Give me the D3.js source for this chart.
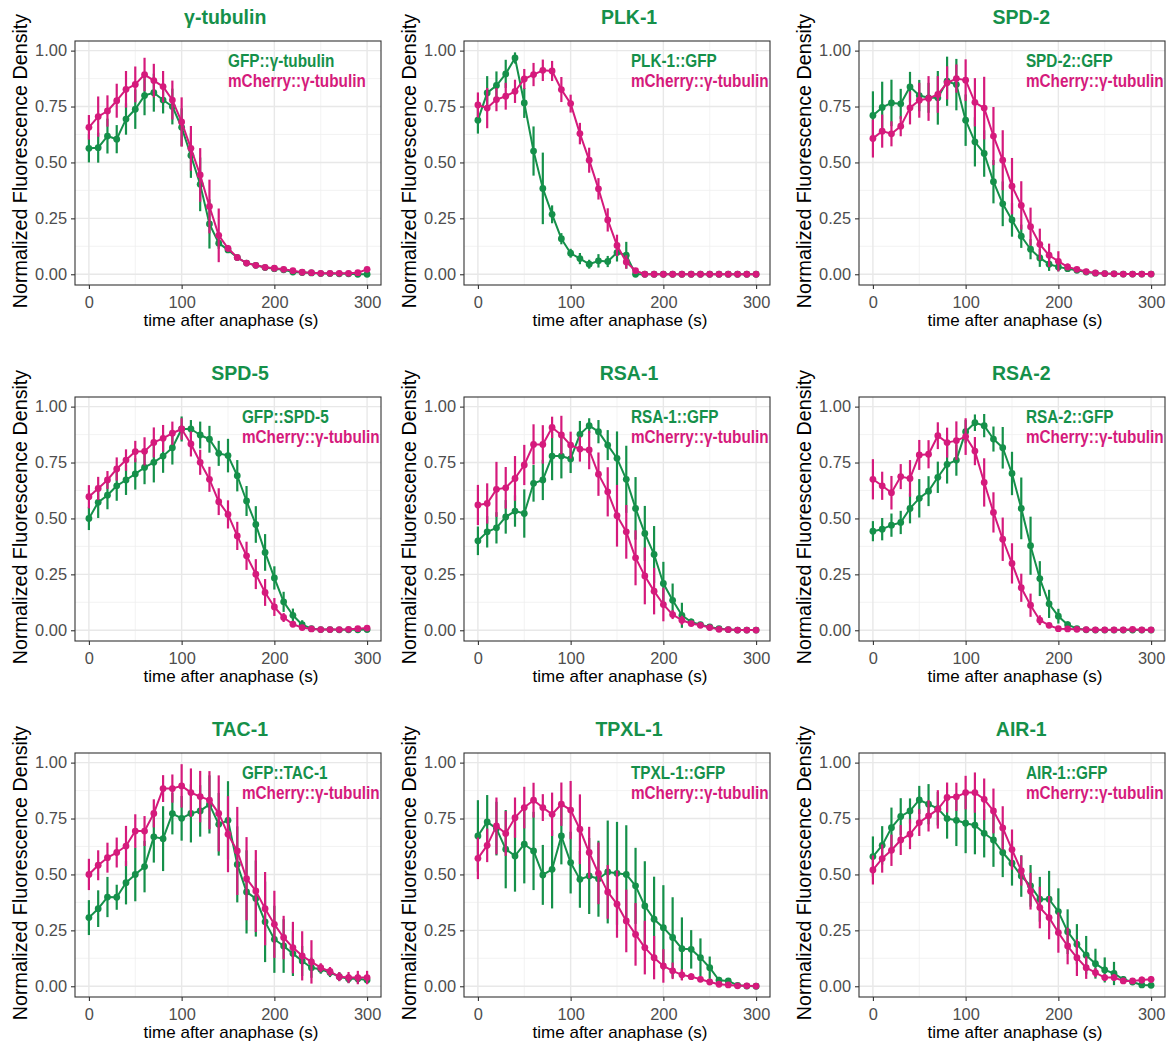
<!DOCTYPE html>
<html>
<head>
<meta charset="utf-8">
<script src="https://cdn.jsdelivr.net/npm/d3@7"></script>
<style>
  body { margin: 0; background: #fff; }
  text { font-family: "Liberation Sans", Arial, Helvetica, sans-serif; }
</style>
</head>
<body>
<div id="chart"></div>
<script>
const width = 1170
const height = 1051

// time after anaphase (s)
const time = [0, 10, 20, 30, 40, 50, 60, 70, 80, 90, 100, 110, 120, 130, 140, 150, 160, 170, 180, 190, 200, 210, 220, 230, 240, 250, 260, 270, 280, 290, 300]

const titles = ['γ-tubulin', 'PLK-1', 'SPD-2', 'SPD-5', 'RSA-1', 'RSA-2', 'TAC-1', 'TPXL-1', 'AIR-1']
const gfpLabels = ['GFP::γ-tubulin', 'PLK-1::GFP', 'SPD-2::GFP', 'GFP::SPD-5', 'RSA-1::GFP', 'RSA-2::GFP', 'GFP::TAC-1', 'TPXL-1::GFP', 'AIR-1::GFP']
const mchLabel = 'mCherry::γ-tubulin'
const yTicks = [0, 0.25, 0.5, 0.75, 1]
const xTicks = [0, 100, 200, 300]

// γ-tubulin
const gammaGfp = [0.563, 0.566, 0.618, 0.604, 0.694, 0.738, 0.799, 0.812, 0.779, 0.75, 0.657, 0.531, 0.402, 0.225, 0.139, 0.109, 0.075, 0.05, 0.04, 0.03, 0.025, 0.02, 0.01, 0.008, 0.006, 0.003, 0.003, 0.002, 0.002, 0.0, 0.0]
const gammaGfpErr = [0.063, 0.067, 0.078, 0.063, 0.07, 0.088, 0.088, 0.085, 0.06, 0.08, 0.085, 0.1, 0.12, 0.11, 0.025, 0.012, 0.01, 0.008, 0.006, 0.005, 0.005, 0.004, 0.004, 0.003, 0.003, 0.003, 0.003, 0.003, 0.003, 0.003, 0.003]
const gammaMch = [0.657, 0.705, 0.73, 0.776, 0.827, 0.849, 0.893, 0.866, 0.839, 0.779, 0.681, 0.563, 0.444, 0.303, 0.174, 0.116, 0.075, 0.05, 0.04, 0.031, 0.027, 0.022, 0.016, 0.009, 0.007, 0.004, 0.004, 0.004, 0.004, 0.007, 0.022]
const gammaMchErr = [0.055, 0.09, 0.07, 0.076, 0.082, 0.08, 0.075, 0.075, 0.07, 0.087, 0.11, 0.1, 0.12, 0.12, 0.12, 0.015, 0.01, 0.008, 0.007, 0.006, 0.005, 0.005, 0.005, 0.004, 0.004, 0.004, 0.004, 0.004, 0.004, 0.006, 0.01]

// PLK-1
const plkGfp = [0.689, 0.811, 0.844, 0.896, 0.967, 0.766, 0.551, 0.384, 0.268, 0.159, 0.094, 0.07, 0.045, 0.06, 0.057, 0.097, 0.085, 0, 0, 0, 0, 0, 0, 0, 0, 0, 0, 0, 0, 0, 0]
const plkGfpErr = [0.06, 0.075, 0.063, 0.063, 0.025, 0.067, 0.11, 0.16, 0.04, 0.025, 0.02, 0.025, 0.02, 0.03, 0.025, 0.04, 0.06, 0.005, 0.002, 0.002, 0.002, 0.002, 0.002, 0.002, 0.002, 0.002, 0.002, 0.002, 0.002, 0.002, 0.002]
const plkMch = [0.757, 0.743, 0.781, 0.796, 0.818, 0.873, 0.893, 0.912, 0.909, 0.826, 0.763, 0.629, 0.51, 0.382, 0.243, 0.129, 0.055, 0.016, 0, 0, 0, 0, 0, 0, 0, 0, 0, 0, 0, 0, 0]
const plkMchErr = [0.056, 0.09, 0.052, 0.06, 0.052, 0.045, 0.052, 0.048, 0.045, 0.056, 0.04, 0.048, 0.056, 0.048, 0.052, 0.048, 0.03, 0.01, 0.002, 0.002, 0.002, 0.002, 0.002, 0.002, 0.002, 0.002, 0.002, 0.002, 0.002, 0.002, 0.002]

// SPD-2
const spd2Gfp = [0.71, 0.746, 0.766, 0.762, 0.838, 0.799, 0.789, 0.789, 0.863, 0.848, 0.689, 0.592, 0.54, 0.414, 0.315, 0.243, 0.17, 0.112, 0.073, 0.045, 0.033, 0.025, 0.018, 0.01, 0.005, 0.003, 0.002, 0.001, 0.001, 0.001, 0.001]
const spd2GfpErr = [0.108, 0.115, 0.104, 0.067, 0.067, 0.07, 0.067, 0.12, 0.11, 0.115, 0.115, 0.11, 0.104, 0.097, 0.1, 0.075, 0.052, 0.045, 0.04, 0.03, 0.02, 0.01, 0.008, 0.006, 0.004, 0.003, 0.003, 0.002, 0.002, 0.002, 0.002]
const spd2Mch = [0.607, 0.64, 0.628, 0.662, 0.744, 0.778, 0.786, 0.804, 0.856, 0.875, 0.868, 0.769, 0.743, 0.618, 0.51, 0.394, 0.308, 0.213, 0.134, 0.085, 0.058, 0.033, 0.022, 0.012, 0.006, 0.003, 0.002, 0.001, 0.001, 0.001, 0.001]
const spd2MchErr = [0.085, 0.074, 0.056, 0.045, 0.074, 0.078, 0.1, 0.082, 0.074, 0.063, 0.093, 0.108, 0.14, 0.13, 0.134, 0.126, 0.108, 0.085, 0.07, 0.052, 0.045, 0.015, 0.01, 0.006, 0.004, 0.003, 0.003, 0.002, 0.002, 0.002, 0.002]

// SPD-5
const spd5Gfp = [0.5, 0.572, 0.604, 0.646, 0.672, 0.699, 0.728, 0.751, 0.779, 0.816, 0.9, 0.9, 0.873, 0.854, 0.791, 0.781, 0.691, 0.578, 0.473, 0.348, 0.234, 0.127, 0.067, 0.025, 0.007, 0.003, 0.003, 0.002, 0.002, 0.002, 0.003]
const spd5GfpErr = [0.052, 0.07, 0.063, 0.067, 0.067, 0.07, 0.075, 0.09, 0.075, 0.075, 0.056, 0.04, 0.06, 0.06, 0.056, 0.075, 0.07, 0.067, 0.082, 0.082, 0.052, 0.045, 0.03, 0.02, 0.008, 0.005, 0.004, 0.004, 0.004, 0.004, 0.004]
const spd5Mch = [0.597, 0.634, 0.672, 0.721, 0.761, 0.799, 0.8, 0.84, 0.858, 0.881, 0.9, 0.833, 0.751, 0.675, 0.575, 0.518, 0.422, 0.333, 0.251, 0.169, 0.104, 0.057, 0.027, 0.012, 0.006, 0.003, 0.003, 0.003, 0.004, 0.007, 0.01]
const spd5MchErr = [0.052, 0.052, 0.04, 0.052, 0.048, 0.048, 0.063, 0.067, 0.06, 0.052, 0.048, 0.056, 0.056, 0.056, 0.06, 0.063, 0.063, 0.063, 0.067, 0.06, 0.04, 0.02, 0.01, 0.006, 0.005, 0.004, 0.004, 0.004, 0.005, 0.006, 0.008]

// RSA-1
const rsa1Gfp = [0.4, 0.44, 0.458, 0.507, 0.533, 0.522, 0.657, 0.672, 0.779, 0.779, 0.766, 0.876, 0.915, 0.888, 0.828, 0.769, 0.675, 0.545, 0.433, 0.339, 0.209, 0.134, 0.067, 0.037, 0.025, 0.015, 0.007, 0.003, 0.001, 0.001, 0.001]
const rsa1GfpErr = [0.064, 0.07, 0.07, 0.075, 0.07, 0.108, 0.082, 0.09, 0.108, 0.1, 0.063, 0.06, 0.033, 0.052, 0.067, 0.12, 0.15, 0.14, 0.123, 0.127, 0.097, 0.075, 0.056, 0.015, 0.01, 0.008, 0.005, 0.004, 0.003, 0.003, 0.003]
const rsa1Mch = [0.56, 0.567, 0.63, 0.637, 0.679, 0.739, 0.831, 0.831, 0.907, 0.873, 0.828, 0.81, 0.806, 0.698, 0.619, 0.512, 0.44, 0.324, 0.243, 0.175, 0.115, 0.07, 0.045, 0.03, 0.022, 0.012, 0.004, 0.003, 0.001, 0.001, 0.001]
const rsa1MchErr = [0.09, 0.09, 0.123, 0.093, 0.1, 0.09, 0.09, 0.086, 0.048, 0.086, 0.06, 0.056, 0.086, 0.097, 0.11, 0.138, 0.12, 0.123, 0.127, 0.104, 0.075, 0.02, 0.02, 0.01, 0.008, 0.006, 0.004, 0.003, 0.003, 0.003, 0.003]

// RSA-2
const rsa2Gfp = [0.443, 0.452, 0.47, 0.482, 0.545, 0.59, 0.622, 0.684, 0.742, 0.761, 0.888, 0.928, 0.915, 0.855, 0.816, 0.701, 0.545, 0.378, 0.231, 0.118, 0.063, 0.025, 0.007, 0.002, 0.001, 0.001, 0.001, 0.001, 0.001, 0.001, 0.001]
const rsa2GfpErr = [0.045, 0.05, 0.052, 0.052, 0.067, 0.086, 0.067, 0.07, 0.086, 0.07, 0.052, 0.037, 0.052, 0.056, 0.093, 0.097, 0.138, 0.13, 0.078, 0.063, 0.033, 0.015, 0.008, 0.004, 0.003, 0.003, 0.003, 0.003, 0.003, 0.003, 0.003]
const rsa2Mch = [0.675, 0.646, 0.615, 0.687, 0.679, 0.784, 0.787, 0.87, 0.839, 0.848, 0.866, 0.801, 0.661, 0.527, 0.407, 0.299, 0.19, 0.112, 0.045, 0.022, 0.007, 0.006, 0.004, 0.003, 0.002, 0.002, 0.002, 0.002, 0.004, 0.002, 0.002]
const rsa2MchErr = [0.09, 0.063, 0.075, 0.056, 0.082, 0.067, 0.063, 0.06, 0.067, 0.086, 0.082, 0.063, 0.108, 0.09, 0.097, 0.09, 0.063, 0.052, 0.022, 0.01, 0.006, 0.004, 0.003, 0.003, 0.003, 0.003, 0.003, 0.003, 0.003, 0.003, 0.003]

// TAC-1
const tacGfp = [0.307, 0.347, 0.399, 0.398, 0.463, 0.5, 0.535, 0.668, 0.66, 0.772, 0.751, 0.773, 0.784, 0.813, 0.724, 0.742, 0.545, 0.422, 0.392, 0.288, 0.21, 0.18, 0.146, 0.113, 0.083, 0.076, 0.061, 0.043, 0.034, 0.034, 0.028]
const tacGfpErr = [0.078, 0.082, 0.09, 0.056, 0.097, 0.12, 0.115, 0.115, 0.145, 0.093, 0.1, 0.13, 0.115, 0.13, 0.14, 0.175, 0.17, 0.186, 0.17, 0.18, 0.15, 0.12, 0.1, 0.067, 0.045, 0.02, 0.02, 0.02, 0.02, 0.02, 0.015]
const tacMch = [0.5, 0.541, 0.575, 0.598, 0.627, 0.694, 0.694, 0.773, 0.884, 0.884, 0.896, 0.866, 0.848, 0.832, 0.773, 0.68, 0.605, 0.481, 0.426, 0.347, 0.277, 0.218, 0.173, 0.136, 0.109, 0.083, 0.066, 0.043, 0.039, 0.039, 0.039]
const tacMchErr = [0.07, 0.067, 0.067, 0.067, 0.09, 0.075, 0.067, 0.063, 0.06, 0.063, 0.097, 0.108, 0.115, 0.13, 0.17, 0.17, 0.197, 0.186, 0.183, 0.164, 0.15, 0.097, 0.115, 0.11, 0.097, 0.02, 0.02, 0.02, 0.025, 0.03, 0.03]

// TPXL-1
const tpxlGfp = [0.672, 0.735, 0.705, 0.613, 0.583, 0.635, 0.605, 0.498, 0.523, 0.672, 0.553, 0.478, 0.493, 0.481, 0.511, 0.505, 0.5, 0.449, 0.359, 0.3, 0.262, 0.218, 0.168, 0.165, 0.128, 0.083, 0.027, 0.024, 0.004, 0.001, 0.0]
const tpxlGfpErr = [0.16, 0.12, 0.12, 0.175, 0.16, 0.175, 0.175, 0.134, 0.175, 0.127, 0.138, 0.127, 0.17, 0.17, 0.23, 0.23, 0.22, 0.17, 0.2, 0.19, 0.19, 0.18, 0.14, 0.086, 0.086, 0.05, 0.015, 0.01, 0.005, 0.003, 0.003]
const tpxlMch = [0.572, 0.63, 0.717, 0.683, 0.754, 0.799, 0.832, 0.799, 0.769, 0.814, 0.788, 0.702, 0.598, 0.505, 0.422, 0.367, 0.292, 0.232, 0.173, 0.128, 0.091, 0.069, 0.051, 0.043, 0.031, 0.019, 0.009, 0.006, 0.002, 0.002, 0.001]
const tpxlMchErr = [0.093, 0.075, 0.127, 0.1, 0.09, 0.093, 0.078, 0.06, 0.097, 0.097, 0.13, 0.156, 0.115, 0.138, 0.12, 0.15, 0.14, 0.14, 0.12, 0.097, 0.075, 0.037, 0.025, 0.015, 0.01, 0.008, 0.005, 0.004, 0.003, 0.003, 0.003]

// AIR-1
const airGfp = [0.58, 0.63, 0.709, 0.759, 0.784, 0.833, 0.814, 0.794, 0.75, 0.742, 0.729, 0.72, 0.684, 0.654, 0.598, 0.55, 0.493, 0.449, 0.389, 0.389, 0.334, 0.244, 0.188, 0.139, 0.101, 0.073, 0.057, 0.031, 0.019, 0.006, 0.004]
const airGfpErr = [0.09, 0.086, 0.09, 0.082, 0.056, 0.063, 0.09, 0.075, 0.09, 0.115, 0.134, 0.13, 0.108, 0.12, 0.11, 0.1, 0.093, 0.093, 0.1, 0.127, 0.104, 0.1, 0.09, 0.086, 0.067, 0.056, 0.052, 0.015, 0.01, 0.005, 0.004]
const airMch = [0.52, 0.571, 0.608, 0.654, 0.68, 0.732, 0.762, 0.791, 0.844, 0.847, 0.866, 0.866, 0.836, 0.784, 0.708, 0.611, 0.517, 0.425, 0.352, 0.307, 0.24, 0.18, 0.128, 0.083, 0.061, 0.039, 0.039, 0.024, 0.024, 0.028, 0.031]
const airMchErr = [0.065, 0.063, 0.07, 0.067, 0.067, 0.06, 0.07, 0.086, 0.067, 0.063, 0.075, 0.09, 0.093, 0.1, 0.097, 0.09, 0.067, 0.082, 0.093, 0.097, 0.09, 0.082, 0.082, 0.05, 0.02, 0.015, 0.015, 0.012, 0.012, 0.015, 0.015]

const gfpSeries = [gammaGfp, plkGfp, spd2Gfp, spd5Gfp, rsa1Gfp, rsa2Gfp, tacGfp, tpxlGfp, airGfp]
const gfpErrors = [gammaGfpErr, plkGfpErr, spd2GfpErr, spd5GfpErr, rsa1GfpErr, rsa2GfpErr, tacGfpErr, tpxlGfpErr, airGfpErr]
const mchSeries = [gammaMch, plkMch, spd2Mch, spd5Mch, rsa1Mch, rsa2Mch, tacMch, tpxlMch, airMch]
const mchErrors = [gammaMchErr, plkMchErr, spd2MchErr, spd5MchErr, rsa1MchErr, rsa2MchErr, tacMchErr, tpxlMchErr, airMchErr]

const green = '#15904a'
const magenta = '#d51a7c'

// panel geometry
const colLeft = [75, 464, 859]
const rowTop = [41, 397, 753]
const pw = 306
const ph = 244
// where legend text starts and where titles are centred (time units)
const legendAt = [150, 165, 165, 165, 165, 165, 165, 165, 165]
const titleAt = [147, 163, 160, 163, 163, 160, 163, 163, 160]

const x = d3.scaleLinear().domain([-15, 315]).range([0, pw])
const y = d3.scaleLinear().domain([-0.048, 1.043]).range([ph, 0])

const svg = d3.select('#chart').append('svg')
  .attr('width', width)
  .attr('height', height)
  .style('background', '#fff')

const line = d3.line()
  .x(d => x(d.t))
  .y(d => y(d.v))

function drawSeries (g, values, errors, color) {
  const pts = time.map((t, i) => ({ t, v: values[i], e: errors[i] }))
  const s = g.append('g')

  s.selectAll('line.err').data(pts).join('line')
    .attr('class', 'err')
    .attr('x1', d => x(d.t)).attr('x2', d => x(d.t))
    .attr('y1', d => y(d.v - d.e)).attr('y2', d => y(d.v + d.e))
    .attr('stroke', color)
    .attr('stroke-width', 2.2)

  s.append('path')
    .datum(pts)
    .attr('d', line)
    .attr('fill', 'none')
    .attr('stroke', color)
    .attr('stroke-width', 2)
    .attr('stroke-linejoin', 'round')

  s.selectAll('circle').data(pts).join('circle')
    .attr('cx', d => x(d.t))
    .attr('cy', d => y(d.v))
    .attr('r', 3.4)
    .attr('fill', color)
}

titles.forEach((title, i) => {
  const left = colLeft[i % 3]
  const top = rowTop[Math.floor(i / 3)]
  const g = svg.append('g').attr('transform', `translate(${left},${top})`)

  // minor grid
  g.selectAll('line.minor-x').data([50, 150, 250]).join('line')
    .attr('class', 'minor-x')
    .attr('x1', d => x(d)).attr('x2', d => x(d))
    .attr('y1', 0).attr('y2', ph)
    .attr('stroke', '#f0f0f0').attr('stroke-width', 0.8)
  g.selectAll('line.minor-y').data([0.125, 0.375, 0.625, 0.875]).join('line')
    .attr('class', 'minor-y')
    .attr('x1', 0).attr('x2', pw)
    .attr('y1', d => y(d)).attr('y2', d => y(d))
    .attr('stroke', '#f0f0f0').attr('stroke-width', 0.8)

  // major grid
  g.selectAll('line.major-x').data(xTicks).join('line')
    .attr('class', 'major-x')
    .attr('x1', d => x(d)).attr('x2', d => x(d))
    .attr('y1', 0).attr('y2', ph)
    .attr('stroke', '#e8e8e8').attr('stroke-width', 1.4)
  g.selectAll('line.major-y').data(yTicks).join('line')
    .attr('class', 'major-y')
    .attr('x1', 0).attr('x2', pw)
    .attr('y1', d => y(d)).attr('y2', d => y(d))
    .attr('stroke', '#e8e8e8').attr('stroke-width', 1.4)

  drawSeries(g, gfpSeries[i], gfpErrors[i], green)
  drawSeries(g, mchSeries[i], mchErrors[i], magenta)

  // panel border
  g.append('rect')
    .attr('width', pw).attr('height', ph)
    .attr('fill', 'none')
    .attr('stroke', '#333').attr('stroke-width', 1.1)

  // axes
  const yAxis = g.append('g')
    .call(d3.axisLeft(y).tickValues(yTicks).tickFormat(d3.format('.2f')).tickSize(4).tickPadding(4))
  const xAxis = g.append('g')
    .attr('transform', `translate(0,${ph})`)
    .call(d3.axisBottom(x).tickValues(xTicks).tickFormat(d => d).tickSize(4).tickPadding(7.5))
  ;[yAxis, xAxis].forEach(a => {
    a.select('.domain').remove()
    a.selectAll('.tick line').attr('stroke', '#333').attr('stroke-width', 1.1)
    a.selectAll('.tick text')
      .attr('fill', '#4d4d4d')
      .style('font-size', '16.4px')
      .style('font-family', '"Liberation Sans", Arial, sans-serif')
  })

  // axis titles
  g.append('text')
    .attr('transform', `translate(-48,${ph / 2 - 2}) rotate(-90)`)
    .attr('text-anchor', 'middle')
    .style('font-size', '19.7px')
    .attr('fill', '#000')
    .text('Normalized Fluorescence Density')

  g.append('text')
    .attr('x', pw / 2 + 3)
    .attr('y', ph + 40.5)
    .attr('text-anchor', 'middle')
    .style('font-size', '17px')
    .attr('fill', '#000')
    .text('time after anaphase (s)')

  // title
  g.append('text')
    .attr('x', x(titleAt[i]))
    .attr('y', -17)
    .attr('text-anchor', 'middle')
    .style('font-size', '19.5px')
    .style('font-weight', 'bold')
    .attr('fill', green)
    .text(title)

  // legend labels
  g.append('text')
    .attr('transform', `translate(${x(legendAt[i])},26) scale(0.875,1)`)
    .style('font-size', '17.5px')
    .style('font-weight', 'bold')
    .attr('fill', green)
    .text(gfpLabels[i])
  g.append('text')
    .attr('transform', `translate(${x(legendAt[i])},46) scale(0.875,1)`)
    .style('font-size', '17.5px')
    .style('font-weight', 'bold')
    .attr('fill', magenta)
    .text(mchLabel)
})
</script>
</body>
</html>
